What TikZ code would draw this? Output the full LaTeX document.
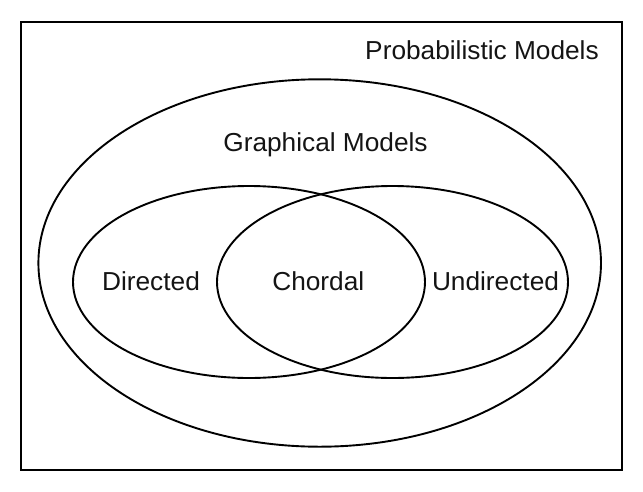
\documentclass[tikz,border=0pt]{standalone}
\usepackage{fontspec}
\setmainfont{Liberation Sans}
\usetikzlibrary{shapes.geometric}
\begin{document}
\begin{tikzpicture}[x=1pt,y=-1pt,
  setshape/.style={ellipse, draw, line width=1.9pt, inner sep=0pt, outer sep=0pt},
  lbl/.style={font=\fontsize{26}{31}\selectfont, inner sep=0pt, anchor=base, text=black!92}]
  \useasboundingbox (0,0) rectangle (643,491);
  \node[draw, line width=2.2pt, minimum width=601pt, minimum height=448pt, inner sep=0pt] (prob) at (321.3,246) {};
  \node[setshape, minimum width=562.6pt, minimum height=367.4pt] (graph) at (319.7,263) {};
  \node[setshape, minimum width=352pt, minimum height=192pt] (dir) at (249,282) {};
  \node[setshape, minimum width=351pt, minimum height=192pt] (undir) at (392.5,282) {};
  \node[lbl] (tprob) at (482,59.7) {\scalebox{1.01}[1]{Probabilistic Models}};
  \node[lbl] (tgraph) at (325.5,151) {\scalebox{1.01}[1]{Graphical Models}};
  \node[lbl] (tdir) at (151,290) {\scalebox{1.01}[1]{Directed}};
  \node[lbl] (tchord) at (318.3,290) {\scalebox{1.01}[1]{Chordal}};
  \node[lbl] (tundir) at (495.5,290) {\scalebox{1.01}[1]{Undirected}};
\end{tikzpicture}
\end{document}
